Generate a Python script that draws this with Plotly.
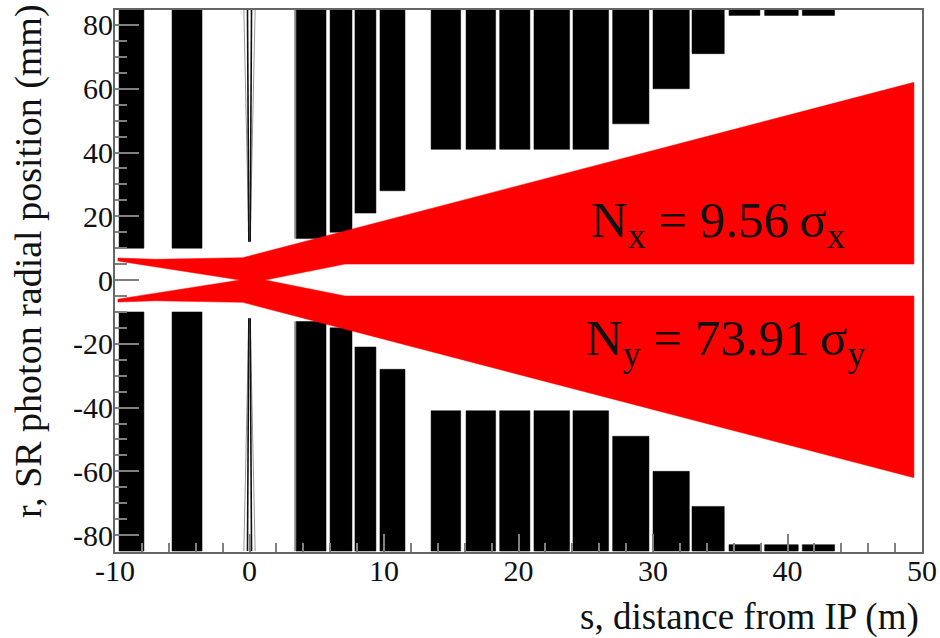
import plotly.graph_objects as go

FONT = "Liberation Serif"

box_start = [-9.7, -5.76, 3.46, 5.99, 7.84, 9.7, 13.5, 16.1, 18.6, 21.15, 24.05, 27.0, 30.0, 32.9, 35.65, 38.3, 41.1]
box_end = [-7.85, -3.53, 5.69, 7.62, 9.4, 11.56, 15.7, 18.3, 20.85, 23.8, 26.7, 29.7, 32.7, 35.3, 37.95, 40.8, 43.5]
box_inner = [10, 10, 13, 15, 21, 28, 41, 41, 41, 41, 41, 49, 60, 71, 83, 83, 83]
R_MAX = 85

env_s = [-9.8, -7.0, -0.5, 49.4, 49.4, 7.1, 1.15, -0.7, -9.8]
env_r = [6.9, 6.5, 7.0, 62.0, 5.0, 5.0, 0.0, 0.0, 6.0]

pipe_s_black = [0.05, 0.15]
pipe_s_gray = [0.05, 0.42]
pipe_r = [12, 85]
edge_s = [3.4]

x_ticks = [-10, 0, 10, 20, 30, 40, 50]
y_ticks = [-80, -60, -40, -20, 0, 20, 40, 60, 80]

fig = go.Figure()

def poly(xs, ys, color):
    fig.add_trace(go.Scatter(x=xs, y=ys, mode="lines", fill="toself", fillcolor=color,
                             line=dict(color=color, width=0.5), hoverinfo="skip", showlegend=False))

# tapered thin elements near s = 0
for sgn_r in (1, -1):
    rr = [sgn_r * v for v in pipe_r]
    for sgn_s in (1, -1):
        fig.add_trace(go.Scatter(x=[sgn_s * v for v in pipe_s_gray], y=rr, mode="lines",
                                 line=dict(color="#999999", width=1), hoverinfo="skip", showlegend=False))
        fig.add_trace(go.Scatter(x=[sgn_s * v for v in pipe_s_black], y=rr, mode="lines",
                                 line=dict(color="#111111", width=1.6), hoverinfo="skip", showlegend=False))

# masks
for a, b, r in zip(box_start, box_end, box_inner):
    for sgn in (1, -1):
        poly([a, b, b, a, a], [sgn * r, sgn * r, sgn * R_MAX, sgn * R_MAX, sgn * r], "#000000")

for s in edge_s:
    for sgn in (1, -1):
        fig.add_trace(go.Scatter(x=[s, s], y=[sgn * 13, sgn * R_MAX], mode="lines",
                                 line=dict(color="#888888", width=2), hoverinfo="skip", showlegend=False))

# synchrotron fan
poly(env_s, env_r, "#ff0000")
poly(env_s, [-v for v in env_r], "#ff0000")

W, H = 940, 638
L, R, T, B = 115, 18, 10, 86
AW = W - L - R
px = lambda v: (v - L) / AW
py = lambda v: (H - B - v) / (H - T - B)
sx = lambda v: -10 + 60 * (v - L) / AW

axis_common = dict(showgrid=False, zeroline=False, showline=True, linecolor="#666666", linewidth=2,
                   mirror=True, ticks="inside", tickcolor="#808080", tickwidth=2, automargin=False,
                   ticklabeloverflow="allow",
                   tickfont=dict(family=FONT, size=30, color="#111111"))

fig.update_xaxes(range=[-10, 50], tickvals=x_ticks, ticktext=[str(v) for v in x_ticks], ticklen=18,
                 ticklabelstandoff=-9,
                 minor=dict(dtick=2, ticks="inside", ticklen=9, tickcolor="#808080", tickwidth=2, showgrid=False),
                 **axis_common)
fig.update_yaxes(range=[-85.3, 84.7], tickvals=y_ticks, ticktext=[str(v) for v in y_ticks], ticklen=24,
                 ticklabelstandoff=-6,
                 minor=dict(dtick=5, ticks="inside", ticklen=12, tickcolor="#808080", tickwidth=2, showgrid=False),
                 **axis_common)

def label(text, x, y, size, xanchor="center", yanchor="middle", angle=0, xref="paper"):
    fig.add_annotation(text=text, xref=xref, yref="paper", x=x, y=y, xanchor=xanchor, yanchor=yanchor,
                       textangle=angle, showarrow=False, font=dict(family=FONT, size=size, color="#111111"))

label("s, distance from IP (m)", sx(921), py(617), 37, xanchor="right", xref="x")
label("r, SR photon radial position (mm)", px(28), py(2), 38, yanchor="top", angle=-90)
label("N<sub>x</sub> = 9.56\u2009σ<sub>x</sub>", sx(718), py(224), 51, xref="x")
label("N<sub>y</sub> = 73.91\u2009σ<sub>y</sub>", sx(725), py(342), 51, xref="x")

fig.update_layout(width=W, height=H, autosize=False, margin=dict(l=L, r=R, t=T, b=B, pad=0),
                  paper_bgcolor="white", plot_bgcolor="white", showlegend=False,
                  font=dict(family=FONT))
fig.write_html("out.html", config=dict(displayModeBar=False),
               post_script="document.body.style.margin='0';document.documentElement.style.overflow='hidden';")
